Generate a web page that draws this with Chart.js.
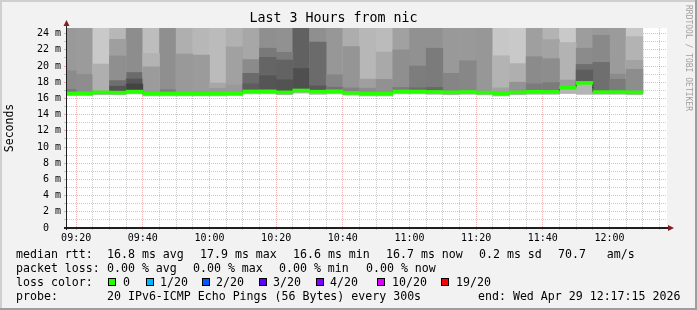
<!DOCTYPE html>
<html>
<head>
<meta charset="utf-8">
<script src="https://cdn.jsdelivr.net/npm/chart.js@4.4.1/dist/chart.umd.min.js"></script>
<style>
  html, body { margin: 0; padding: 0; background: #f2f2f2; }
  #wrap { position: relative; width: 697px; height: 310px; overflow: hidden; }
  #wrap canvas { position: absolute; left: 0; top: 0; }
  .t { position: absolute; font-family: 'DejaVu Sans Mono', monospace; font-size: 11.6px; line-height: 14px; color: #000; white-space: pre; }
  .box { position: absolute; top: 278px; width: 6px; height: 6px; border: 1px solid #000; }
  #credit { position: absolute; left: 684px; top: 5px; writing-mode: vertical-rl; font-family: 'DejaVu Sans Mono', monospace; font-size: 8px; line-height: 8px; color: #a0a0a0; white-space: pre; }
</style>
</head>
<body>
<div id="wrap">
  <canvas id="smokeChart" width="697" height="310"></canvas>

  <div class="t" style="left:16px;top:247px">median rtt:</div>
  <div class="t" style="left:107px;top:247px">16.8 ms avg</div>
  <div class="t" style="left:200px;top:247px">17.9 ms max</div>
  <div class="t" style="left:293px;top:247px">16.6 ms min</div>
  <div class="t" style="left:386px;top:247px">16.7 ms now</div>
  <div class="t" style="left:479px;top:247px">0.2 ms sd</div>
  <div class="t" style="left:558px;top:247px">70.7   am/s</div>

  <div class="t" style="left:16px;top:261px">packet loss:</div>
  <div class="t" style="left:107px;top:261px">0.00 % avg</div>
  <div class="t" style="left:193px;top:261px">0.00 % max</div>
  <div class="t" style="left:279px;top:261px">0.00 % min</div>
  <div class="t" style="left:366px;top:261px">0.00 % now</div>

  <div class="t" style="left:16px;top:275px">loss color:</div>
  <div class="box" style="left:108px;background:#26ff00"></div><div class="t" style="left:123px;top:275px">0</div>
  <div class="box" style="left:146px;background:#00b8ff"></div><div class="t" style="left:160px;top:275px">1/20</div>
  <div class="box" style="left:202px;background:#0059ff"></div><div class="t" style="left:216px;top:275px">2/20</div>
  <div class="box" style="left:259px;background:#5e00ff"></div><div class="t" style="left:273px;top:275px">3/20</div>
  <div class="box" style="left:316px;background:#7e00ff"></div><div class="t" style="left:330px;top:275px">4/20</div>
  <div class="box" style="left:377px;background:#dd00ff"></div><div class="t" style="left:392px;top:275px">10/20</div>
  <div class="box" style="left:441px;background:#ff0000"></div><div class="t" style="left:456px;top:275px">19/20</div>

  <div class="t" style="left:16px;top:288.5px">probe:</div>
  <div class="t" style="left:107px;top:288.5px">20 IPv6-ICMP Echo Pings (56 Bytes) every 300s</div>
  <div class="t" style="left:478px;top:288.5px">end: Wed Apr 29 12:17:15 2026</div>

  <div id="credit">RRDTOOL / TOBI OETIKER</div>
</div>

<script>
// 5 minute bins (start time), 20 pings each
const binStart = ['09:15','09:20','09:25','09:30','09:35','09:40','09:45','09:50','09:55',
  '10:00','10:05','10:10','10:15','10:20','10:25','10:30','10:35','10:40','10:45','10:50','10:55',
  '11:00','11:05','11:10','11:15','11:20','11:25','11:30','11:35','11:40','11:45','11:50','11:55',
  '12:00','12:05'];

// median rtt (ms)
const median = [16.62,16.63,16.75,16.72,16.84,16.60,16.60,16.60,16.58,16.60,16.62,16.86,16.87,16.75,16.98,16.83,16.88,
  16.68,16.60,16.60,16.85,16.85,16.80,16.75,16.80,16.72,16.60,16.75,16.82,16.80,17.33,17.92,16.78,16.78,16.75];

// fastest ping of each bin (ms)
const pingMin = [16.35,16.35,16.45,16.45,16.55,16.30,16.30,16.30,16.30,16.30,16.35,16.55,16.55,16.45,16.65,16.50,16.55,
  16.40,16.30,16.30,16.55,16.55,16.50,16.45,16.50,16.45,16.30,16.45,16.50,16.50,16.60,16.50,16.50,16.50,16.45];

// smoke: density (% of pings) of the band reaching the top of the graph
const topDensity = [41,40,17,26,47,23,46,30,26,24,29,34,46,45,69,46,42,31,26,24,37,45,45,41,41,42,18,17,38,28,17,39,41,40,18];

// smoke: inner bands, upper edge (ms) and density (%)
const cut1 = [19.4,18.95,20.25,23.3,19.2,21.55,17.1,21.48,21.35,17.9,22.35,20.8,22.2,21.7,19.7,22.95,18.92,22.4,18.38,21.72,
  22.0,20.0,22.2,19.1,20.65,null,21.27,20.3,21.15,23.25,22.9,22.2,23.8,19.0,23.65];
const dens1 = [48,47,30,38,64,28,54,41,40,34,37,48,57,56,78,64,51,43,38,33,46,55,56,51,50,null,28,30,48,36,28,48,49,48,28];

const cut2 = [17.1,null,null,21.25,18.4,19.9,null,null,null,17.25,17.65,19.1,21.07,20.74,null,17.55,17.38,17.3,17.27,18.35,
  17.35,17.3,17.35,null,null,null,17.3,18.0,17.8,20.9,18.27,20.2,20.45,18.35,20.7];
const dens2 = [58,null,null,46,75,40,null,null,null,41,41,64,67,68,null,73,61,52,47,45,56,64,66,null,null,null,37,44,56,47,40,62,62,56,36];

const cut3 = [null,null,null,18.2,17.78,null,null,null,null,null,null,17.8,18.8,18.3,null,null,null,null,null,null,
  null,null,null,null,null,null,null,null,null,17.95,null,19.5,null,null,19.6];
const dens3 = [null,null,null,62,84,null,null,null,null,null,null,71,75,76,null,null,null,null,null,null,
  null,null,null,null,null,null,null,null,null,56,null,71,null,null,47];

const cut4 = [null,null,null,17.5,null,null,null,null,null,null,null,null,null,null,null,null,null,null,null,null,
  null,null,null,null,null,null,null,null,null,null,null,null,null,null,null];
const dens4 = [null,null,null,75,null,null,null,null,null,null,null,null,null,null,null,null,null,null,null,null,
  null,null,null,null,null,null,null,null,null,null,null,null,null,null,null];

const FONT = "'DejaVu Sans Mono', monospace";
const GRID = 'rgba(143,143,143,0.45)';
const MGRID = 'rgba(222,80,80,0.42)';
const Y_MAX = 24.7;
const X_MIN = 9 * 60 + 17.25;
const X_MAX = 12 * 60 + 17.25;
const MEDIAN_HALF = 0.185;

const toMin = s => { const [h, m] = s.split(':').map(Number); return h * 60 + m; };
const centers = binStart.map(s => toMin(s) + 2.5);
const shade = d => { const g = Math.round(235 - 2 * d); return `rgb(${g},${g},${g})`; };
const hhmm = v => String(Math.floor(v / 60)).padStart(2, '0') + ':' + String(v % 60).padStart(2, '0');

const barOpts = { type: 'bar', grouped: false, barPercentage: 1, categoryPercentage: 1 };

function smokeBand(upper, density, order) {
  const pts = [], colors = [];
  centers.forEach((x, i) => {
    const hi = Array.isArray(upper) ? upper[i] : upper;
    if (hi == null) return;
    pts.push({ x, y: [median[i], hi] });
    colors.push(shade(density[i]));
  });
  return { ...barOpts, data: pts, backgroundColor: colors, order };
}

const datasets = [
  { ...barOpts, order: 0, backgroundColor: '#26ff00',
    data: centers.map((x, i) => ({ x, y: [median[i] - MEDIAN_HALF, median[i] + MEDIAN_HALF] })) },
  { type: 'line', order: 1, stepped: 'middle', borderColor: '#202020', borderWidth: 1, borderDash: [2, 1],
    pointRadius: 0, fill: false, data: centers.map((x, i) => ({ x, y: median[i] })) },
  smokeBand(cut4, dens4, 2),
  smokeBand(cut3, dens3, 3),
  smokeBand(cut2, dens2, 4),
  smokeBand(cut1, dens1, 5),
  smokeBand(Y_MAX, topDensity, 6),
  { ...barOpts, order: 7, backgroundColor: '#b4b4b4',
    data: centers.map((x, i) => ({ x, y: [pingMin[i], median[i]] })) }
];

const rrdFrame = {
  id: 'rrdFrame',
  beforeDraw(chart) {
    const { ctx, chartArea: a, width: w, height: h } = chart;
    ctx.save();
    ctx.fillStyle = '#f2f2f2'; ctx.fillRect(0, 0, w, h);
    ctx.fillStyle = '#cfcfcf'; ctx.fillRect(0, 0, w, 2); ctx.fillRect(0, 0, 2, h);
    ctx.fillStyle = '#9e9e9e'; ctx.fillRect(0, h - 2, w, 2); ctx.fillRect(w - 2, 0, 2, h);
    ctx.fillStyle = '#fff'; ctx.fillRect(a.left, a.top, a.right - a.left, a.bottom - a.top);
    ctx.restore();
  },
  afterDraw(chart) {
    const { ctx, chartArea: a } = chart;
    ctx.save();
    ctx.strokeStyle = '#1f1f1f';
    ctx.lineWidth = 1;
    ctx.beginPath(); ctx.moveTo(a.left - 0.5, a.bottom + 2); ctx.lineTo(a.left - 0.5, a.top - 3); ctx.stroke();
    ctx.lineWidth = 2;
    ctx.beginPath(); ctx.moveTo(a.left - 3, a.bottom); ctx.lineTo(a.right + 2, a.bottom); ctx.stroke();
    ctx.fillStyle = '#801f1f';
    ctx.beginPath(); ctx.moveTo(a.left - 0.5, a.top - 8); ctx.lineTo(a.left - 3.5, a.top - 2); ctx.lineTo(a.left + 2.5, a.top - 2); ctx.closePath(); ctx.fill();
    ctx.beginPath(); ctx.moveTo(a.right + 7, a.bottom); ctx.lineTo(a.right + 1, a.bottom - 3); ctx.lineTo(a.right + 1, a.bottom + 3); ctx.closePath(); ctx.fill();
    ctx.restore();
  }
};

new Chart(document.getElementById('smokeChart'), {
  type: 'bar',
  data: { datasets },
  plugins: [rrdFrame],
  options: {
    responsive: false,
    animation: false,
    layout: { padding: { left: 0, right: 30, top: 0, bottom: 62 } },
    plugins: {
      legend: { display: false },
      tooltip: { enabled: false },
      title: {
        display: true, text: 'Last 3 Hours from nic', color: '#000',
        font: { family: FONT, size: 13.3, weight: 'normal', lineHeight: 1.2 },
        padding: { top: 11, bottom: 1 }
      }
    },
    scales: {
      x: {
        type: 'linear', min: X_MIN, max: X_MAX, offset: false, z: 1,
        afterBuildTicks: s => { s.ticks = []; for (let v = 560; v <= 735; v += 5) s.ticks.push({ value: v }); },
        afterFit: s => { s.height = 20; },
        grid: { offset: false, color: c => (c.tick && c.tick.value % 20 === 0) ? MGRID : GRID,
                tickColor: c => (c.tick && c.tick.value % 20 === 0) ? MGRID : GRID, tickLength: 2 },
        border: { display: false, dash: [1, 1] },
        ticks: { autoSkip: false, maxRotation: 0, minRotation: 0, padding: 2, color: '#000',
                 font: { family: FONT, size: 10 },
                 callback: v => v % 20 === 0 ? hhmm(v) : '' }
      },
      y: {
        min: 0, max: Y_MAX, z: 1,
        afterBuildTicks: s => { s.ticks = []; for (let v = 0; v <= 24; v++) s.ticks.push({ value: v }); },
        afterFit: s => { s.width = 67; },
        grid: { color: c => (c.tick && c.tick.value % 2 === 0) ? MGRID : GRID,
                tickColor: c => (c.tick && c.tick.value % 2 === 0) ? MGRID : GRID, tickLength: 3 },
        border: { display: false, dash: [1, 1] },
        ticks: { autoSkip: false, padding: 3, color: '#000', font: { family: FONT, size: 10 },
                 callback: v => v % 2 ? '' : (v === 0 ? '0  ' : v + ' m') },
        title: { display: true, text: 'Seconds', color: '#000',
                 font: { family: FONT, size: 11.5 }, padding: { top: 3, bottom: 0 } }
      }
    }
  }
});
</script>
</body>
</html>
